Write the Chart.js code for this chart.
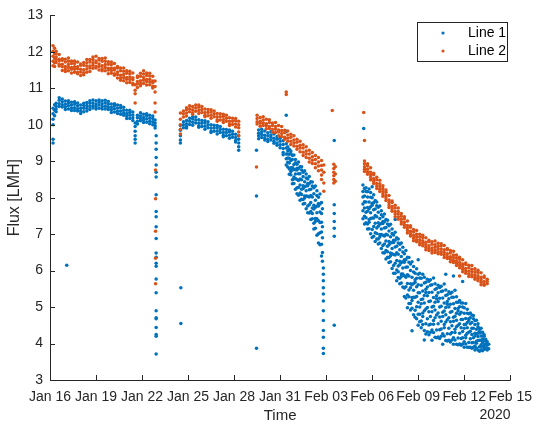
<!DOCTYPE html>
<html>
<head>
<meta charset="utf-8">
<script src="https://cdn.jsdelivr.net/npm/chart.js@4.4.1/dist/chart.umd.min.js"></script>
<style>
html,body{margin:0;padding:0;background:#fff;}
#wrap{position:relative;width:541px;height:427px;}
canvas{display:block;}
</style>
</head>
<body>
<div id="wrap"><canvas id="c" width="541" height="427"></canvas></div>
<script>
// x values are days after Jan 16 2020 00:00
const xTickLabels = ['Jan 16','Jan 19','Jan 22','Jan 25','Jan 28','Jan 31','Feb 03','Feb 06','Feb 09','Feb 12','Feb 15'];
const yTickValues = [3,4,5,6,7,8,9,10,11,12,13];
const seriesNames = ['Line 1','Line 2'];
const seriesColors = ['#0072BD','#D95319'];

// Line 1 (blue): each row = [day, flux values read at that time...]
const line1Seg1 = [
[0.2,10.45,10.3,10.15,10.0,9.6,9.5],[0.3,10.55,10.4,10.25],
[0.4,10.59,10.51,10.43,10.36],[0.6,10.67,10.58,10.5,10.74],[0.8,10.71,10.63,10.55,10.49],
[1.0,10.65,10.56,10.49,10.42],[1.2,10.66,10.6,10.52,10.43],[1.4,10.62,10.54,10.46,10.39],
[1.6,10.56,10.47,10.39,10.63],[1.8,10.6,10.52,10.44,10.38],[2.0,10.54,10.45,10.38,10.31],
[2.2,10.59,10.53,10.45,10.36],[2.4,10.61,10.53,10.45,10.38],[2.6,10.59,10.5,10.42,10.66],
[2.8,10.68,10.6,10.52,10.46],[3.0,10.66,10.57,10.5,10.43],[3.2,10.68,10.62,10.54,10.45],
[3.4,10.66,10.58,10.5,10.43],[3.6,10.6,10.51,10.43,10.67],[3.8,10.64,10.56,10.48,10.42],
[4.0,10.57,10.48,10.41,10.34],[4.2,10.58,10.52,10.44,10.35],[4.4,10.54,10.46,10.38,10.31],
[4.6,10.46,10.37,10.29,10.53],[4.8,10.48,10.4,10.32,10.26],[5.0,10.4,10.31,10.24,10.17],
[5.2,10.4,10.34,10.26,10.17],[5.4,10.35,10.27,10.19,10.12],[5.55,10.05,9.95,9.82,9.7,9.6,9.5],
[5.7,10.19,10.1,10.02,10.26],[5.9,10.33,10.25,10.17,10.11],[6.1,10.29,10.2,10.13,10.06],
[6.3,10.3,10.24,10.16,10.07],[6.5,10.26,10.18,10.1,10.03],[6.7,10.17,10.08,10.0,10.24],
[6.85,10.13,10.05,9.97,9.91],
[6.92,9.7,9.5,9.33,9.1,8.9,8.7,8.57,8.08,7.62,7.48,7.2,6.88,6.48,6.37,6.2,6.12,5.77,5.39,4.9,4.71,4.68,4.44,4.25,4.2,3.71],
[1.09,6.15]
];
const line1Seg2 = [
[8.53,5.53,4.55],
[8.5,9.98,9.85,9.7,9.58,9.5],[8.7,10.08,10.0,9.92],[8.9,10.12,10.03,9.95,9.91],[9.1,10.18,10.1,10.01],
[9.3,10.16,10.07,9.99,10.22],[9.5,10.21,10.13,10.05],[9.7,10.14,10.05,9.97,9.93],[9.9,10.12,10.04,9.95],
[10.1,10.05,9.96,9.88,10.11],[10.3,10.08,10.0,9.92],[10.5,10.0,9.91,9.83,9.79],[10.7,9.99,9.91,9.82],
[10.9,9.92,9.83,9.75,9.98],[11.1,9.95,9.87,9.79],[11.3,9.88,9.79,9.71,9.67],[11.5,9.87,9.79,9.7],
[11.7,9.8,9.71,9.63,9.86],[11.9,9.82,9.74,9.66],[12.1,9.74,9.65,9.57,9.53],[12.3,9.7,9.6,9.5,9.4,9.3]
];
const line1Seg3 = [
[13.46,9.3,8.05,3.87],
[13.6,9.86,9.77,9.7,9.62],[13.8,9.8,9.73,9.65,9.88],[14.0,9.83,9.71,9.64,9.58],[14.2,9.78,9.7,9.6,9.54],
[14.4,9.72,9.66,9.58,9.81],[14.6,9.75,9.63,9.55,9.49],[14.8,9.68,9.6,9.5,9.44],[15.0,9.63,9.55,9.45,9.37],
[15.2,9.56,9.46,9.35,9.24,9.18],[15.4,10.26,9.82,9.48,9.36,9.2,9.07,8.9],
[15.5,9.4,9.29,9.2,9.09,8.97,8.84],[15.6,9.33,9.19,9.08,8.95,8.79,8.64],
[15.7,9.28,9.21,9.02,8.82,8.72,8.63],[15.8,9.16,9.05,8.83,8.76,8.49,8.38],
[15.9,9.17,8.91,8.78,8.57,8.51,8.39],[16.0,9.05,8.96,8.77,8.65,8.53,8.23],
[16.1,8.92,8.81,8.76,8.5,8.27,8.11],[16.2,8.98,8.8,8.66,8.47,8.28,8.07],
[16.3,8.85,8.66,8.51,8.35,8.13,7.93],[16.4,8.85,8.76,8.49,8.23,8.09,7.96],
[16.5,8.7,8.58,8.33,8.25,7.95,7.83],[16.6,8.74,8.44,8.3,8.05,7.99,7.84],
[16.7,8.65,8.54,8.32,8.19,8.05,7.7],[16.8,8.51,8.39,8.33,8.04,7.77,7.59],
[16.9,8.58,8.39,8.22,8.02,7.81,7.58],[17.0,8.44,8.23,8.06,7.87,7.62,7.4],
[17.1,8.43,8.32,8.02,7.72,7.57,7.42],[17.2,8.27,8.11,7.79,7.69,7.3,7.14],
[17.3,8.32,7.93,7.74,7.43,7.35,7.16],[17.4,8.19,8.06,7.77,7.59,7.42,6.97],
[17.5,8.01,7.84,7.77,7.37,7.01,6.76],[17.6,8.1,7.83,7.61,7.32,7.04,6.71],
[17.7,7.87,7.57,7.33,7.06,6.72,6.4],[17.76,7.7,7.2,6.9,6.5,6.26],
[17.82,6.07,5.9,5.72,5.53,5.36,5.17,4.9,4.63,4.36,4.17,3.87,3.73],
[18.53,9.57,7.81,7.57,7.35,7.16,6.94,4.5]
];
const line1Seg5 = [
[20.45,9.9],
[20.4,8.35,8.17,8.02,7.83,7.64,7.42],[20.5,8.25,8.05,7.89,7.72,7.49,7.28],
[20.6,8.27,8.17,7.88,7.6,7.45,7.31],[20.7,8.16,8.02,7.73,7.63,7.28,7.14],
[20.8,8.24,7.88,7.7,7.4,7.33,7.15],[20.9,8.14,8.01,7.75,7.59,7.43,7.01],
[21.0,8.3,8.0,7.85,7.79,7.44,7.13,6.91],[21.1,8.08,7.86,7.67,7.44,7.21,6.94],
[21.2,7.92,7.69,7.51,7.3,7.04,6.8],[21.3,7.88,7.78,7.48,7.17,7.02,6.87],
[21.4,7.74,7.6,7.31,7.22,6.87,6.73],[21.5,7.77,7.43,7.27,6.99,6.92,6.76],
[21.6,7.64,7.53,7.29,7.14,6.99,6.61],[21.7,7.48,7.35,7.29,6.97,6.69,6.49],
[21.8,7.55,7.34,7.17,6.95,6.73,6.48],[21.9,7.4,7.18,7.0,6.81,6.55,6.32],
[22.0,7.38,7.28,6.98,6.67,6.52,6.37],[22.1,7.23,7.09,6.8,6.71,6.36,6.22],
[22.2,7.27,6.93,6.76,6.48,6.41,6.24],[22.3,7.14,7.02,6.77,6.61,6.46,6.06],
[22.4,6.98,6.83,6.77,6.44,6.14,5.93],[22.5,7.4,7.05,6.83,6.65,6.43,6.2,5.93],
[22.6,6.9,6.67,6.49,6.28,6.02,5.72],[22.7,6.87,6.76,6.45,6.13,5.97,5.81],
[22.8,6.72,6.57,6.26,6.16,5.79,5.64],[22.9,6.76,6.39,6.22,5.91,5.84,5.66],
[23.0,6.64,6.51,6.24,6.07,5.91,5.55],[23.1,6.46,6.3,6.23,5.86,5.52,5.29],
[23.2,6.55,6.3,6.09,5.82,5.56,5.25],[23.3,6.37,6.1,5.89,5.65,5.33,4.98],
[23.4,6.36,6.23,5.85,5.47,5.28,5.1],[23.5,6.18,6.0,5.64,5.53,5.1,4.92],
[23.6,6.24,5.82,5.61,5.26,5.18,4.97,4.35],[23.7,6.11,5.96,5.65,5.46,5.27,4.79],
[23.8,5.93,5.75,5.68,5.27,4.91,4.72],[23.9,6.05,5.79,5.56,5.29,5.01,4.68],
[24.0,6.3,5.9,5.61,5.39,5.13,4.8,4.5],[24.1,5.93,5.8,5.39,5.0,4.8,4.6],
[24.2,5.79,5.6,5.21,5.09,4.62,4.43],[24.3,5.9,5.44,5.22,4.84,4.74,4.52],
[24.4,5.82,5.66,5.32,5.11,4.9,4.36,4.1],[24.5,5.68,5.49,5.4,4.95,4.54,4.26],
[24.6,5.76,5.55,5.31,4.99,4.68,4.32],[24.7,5.71,5.4,5.15,4.87,4.51,4.24],
[24.8,5.75,5.6,5.17,4.74,4.53,4.31],[24.9,5.61,5.41,5.0,4.87,4.37,4.09],
[25.0,5.8,5.26,5.02,4.63,4.53,4.3],[25.1,5.64,5.48,5.13,4.92,4.71,4.17],
[25.2,5.51,5.31,5.23,4.78,4.37,4.16],[25.3,5.6,5.39,5.15,4.84,4.54,4.18],
[25.4,5.54,5.24,5.0,4.73,4.38,4.14],[25.5,5.57,5.43,5.02,4.61,4.4,4.2],
[25.6,5.44,5.25,4.86,4.74,4.27,3.98],[25.7,5.63,5.11,4.89,4.52,4.43,4.21],
[25.8,5.9,5.47,5.32,4.99,4.79,4.59,4.08],[25.9,5.34,5.15,5.08,4.65,4.27,4.07],
[26.0,5.42,5.23,5.0,4.71,4.42,4.09],[26.1,5.37,5.08,4.86,4.6,4.26,4.04],
[26.2,5.41,5.27,4.88,4.49,4.3,4.1],[26.3,5.85,5.27,5.09,4.72,4.61,4.16,3.98],
[26.4,5.46,4.96,4.75,4.39,4.3,4.1],[26.5,5.28,5.13,4.83,4.64,4.46,3.98],
[26.6,5.13,4.96,4.89,4.5,4.15,3.97],[26.7,5.18,5.01,4.8,4.54,4.28,3.99],
[26.8,5.11,4.86,4.66,4.43,4.14,3.95],[26.9,5.7,5.11,5.0,4.66,4.33,4.16,3.99],
[27.0,4.98,4.83,4.52,4.42,4.05,3.9],[27.1,5.1,4.69,4.52,4.23,4.16,3.99],
[27.2,4.94,4.83,4.58,4.43,4.28,3.9],[27.3,4.82,4.68,4.63,4.31,4.03,3.9],
[27.4,4.84,4.71,4.54,4.34,4.13,3.9],[27.5,4.78,4.58,4.42,4.25,4.02,3.87],
[27.6,4.77,4.68,4.42,4.16,4.03,3.9],[27.7,4.63,4.52,4.28,4.21,3.93,3.82],
[27.8,4.64,4.39,4.27,4.06,4.01,3.88],[27.9,4.54,4.46,4.29,4.19,4.08,3.82],
[28.0,4.41,4.33,4.29,4.09,3.91,3.79],[28.1,4.42,4.31,4.21,4.09,3.97,3.83],
[28.2,4.31,4.21,4.12,4.03,3.91,3.8],[28.3,4.24,4.2,4.08,3.96,3.9,3.84],
[28.4,4.12,4.07,3.99,3.96,3.85],[28.5,4.05,3.96,3.88,3.82],[28.6,3.98,3.86]
];

// Line 2 (orange)
const line2Seg1 = [
[0.2,12.17,12.02,11.88,11.74,11.62],[0.3,12.1,11.95,11.82,11.7,11.6],
[0.4,11.95,11.86,11.79,11.71,12.02],[0.6,11.93,11.8,11.75,11.65,11.61],[0.8,11.77,11.66,11.59,11.49,11.81],
[1.0,11.8,11.72,11.6,11.52,11.46],[1.2,11.83,11.74,11.65,11.57,11.48],[1.4,11.75,11.68,11.57,11.52,11.42],
[1.6,11.68,11.59,11.52,11.44,11.75],[1.8,11.72,11.59,11.54,11.44,11.4],[2.0,11.63,11.52,11.45,11.35,11.67],
[2.2,11.71,11.63,11.51,11.43,11.37],[2.4,11.79,11.7,11.61,11.53,11.44],[2.6,11.79,11.72,11.61,11.56,11.46],
[2.8,11.79,11.7,11.63,11.55,11.86],[3.0,11.88,11.75,11.7,11.6,11.56],[3.2,11.78,11.67,11.6,11.5,11.82],
[3.4,11.82,11.74,11.62,11.54,11.48],[3.6,11.83,11.74,11.65,11.57,11.48],[3.8,11.73,11.66,11.55,11.5,11.4],
[4.0,11.65,11.56,11.49,11.41,11.72],[4.2,11.68,11.55,11.5,11.4,11.36],[4.4,11.56,11.45,11.38,11.28,11.6],
[4.6,11.56,11.48,11.36,11.28,11.22],[4.8,11.56,11.47,11.38,11.3,11.21],[5.0,11.48,11.41,11.3,11.25,11.15],
[5.2,11.4,11.31,11.24,11.16,11.47],[5.4,11.42,11.29,11.24,11.14,11.1],[5.55,11.1,10.95,10.85,10.6],
[5.7,11.3,11.19,11.12,11.02,11.34],[5.9,11.41,11.33,11.21,11.13,11.07],[6.1,11.48,11.39,11.3,11.22,11.13],
[6.3,11.42,11.35,11.24,11.19,11.09],[6.5,11.34,11.25,11.18,11.1,11.41],[6.7,11.33,11.2,11.15,11.05,11.01],
[6.85,11.2,11.05,10.9,10.6,10.35],
[6.88,8.76,7.97,7.08,6.34,5.64]
];
const line2Seg2 = [
[8.5,10.32,10.15,10.0,9.88,9.75],[8.7,10.38,10.3,10.21],[8.9,10.41,10.32,10.24,10.47],[9.1,10.52,10.44,10.36],
[9.3,10.5,10.41,10.33,10.29],[9.5,10.54,10.46,10.37],[9.7,10.48,10.39,10.31,10.54],[9.9,10.5,10.42,10.34],
[10.1,10.43,10.34,10.26,10.22],[10.3,10.42,10.34,10.25],[10.5,10.35,10.26,10.18,10.41],[10.7,10.38,10.3,10.22],
[10.9,10.31,10.22,10.14,10.1],[11.1,10.3,10.22,10.13],[11.3,10.23,10.14,10.06,10.29],[11.5,10.26,10.18,10.1],
[11.7,10.19,10.1,10.02,9.98],[11.9,10.18,10.1,10.01],[12.1,10.11,10.02,9.94,10.17],[12.3,10.1,10.0,9.92,9.8,9.7]
];
const line2Seg3 = [
[13.46,8.84],
[13.5,10.26,10.17,10.08,10.02],[13.7,10.2,10.1,10.04,9.96],[13.9,10.22,10.13,10.05,9.98],
[14.1,10.15,10.03,9.97,9.89],[14.3,10.14,10.06,9.95,9.9],[14.5,10.05,9.98,9.87,9.8],
[14.7,10.06,9.95,9.88,9.79],[14.9,9.98,9.86,9.8,9.7],[15.1,9.95,9.84,9.76,9.68],
[15.3,9.85,9.78,9.66,9.6],[15.4,10.9,10.83],[15.5,9.83,9.72,9.63,9.55],[15.7,9.74,9.66,9.55,9.46],
[15.9,9.7,9.58,9.5,9.42],[16.1,9.6,9.52,9.41,9.33],[16.3,9.55,9.44,9.36,9.26],[16.5,9.45,9.36,9.25,9.16],
[16.7,9.4,9.28,9.2,9.1],[16.9,9.3,9.2,9.08,8.98],[17.1,9.24,9.12,9.03,8.94],[17.3,9.16,9.05,8.93,8.82],
[17.5,9.1,8.98,8.87,8.74],[17.7,9.02,8.88,8.76,8.62,8.5],[17.85,8.9,8.7,8.4,8.18],
[18.4,10.39],[18.5,8.92,8.8,8.7,8.6,8.5,8.4],[18.6,8.85,8.65,8.45]
];
const line2Seg5 = [
[20.45,10.34],[20.5,9.57],
[20.5,9.01,8.93,8.85,8.78,8.72],[20.7,8.87,8.78,8.71,8.64,8.93],[20.9,8.82,8.7,8.63,8.56,8.49],
[21.1,8.63,8.52,8.45,8.39,8.67],[21.3,8.56,8.49,8.39,8.32,8.25],[21.5,8.48,8.38,8.31,8.23,8.17],
[21.7,8.33,8.25,8.17,8.1,8.04],[21.9,8.15,8.06,7.99,7.92,8.21],[22.1,8.06,7.94,7.87,7.8,7.73],
[22.3,7.87,7.76,7.69,7.63,7.91],[22.5,7.79,7.72,7.62,7.55,7.48],[22.7,7.72,7.62,7.55,7.47,7.41],
[22.9,7.57,7.49,7.41,7.34,7.28],[23.1,7.42,7.33,7.26,7.19,7.48],[23.3,7.36,7.24,7.17,7.1,7.03],
[23.5,7.19,7.08,7.01,6.95,7.23],[23.7,7.13,7.06,6.96,6.89,6.82],[23.9,7.1,7.0,6.93,6.85,6.79],
[24.1,7.0,6.92,6.84,6.77,6.71],[24.3,6.91,6.82,6.75,6.68,6.97],[24.5,6.9,6.78,6.71,6.64,6.57],
[24.7,6.79,6.68,6.61,6.55,6.83],[24.9,6.79,6.72,6.62,6.55,6.48],[25.1,6.81,6.71,6.64,6.56,6.5],
[25.3,6.75,6.67,6.59,6.52,6.46],[25.5,6.68,6.59,6.52,6.45,6.74],[25.7,6.69,6.57,6.5,6.43,6.36],
[25.9,6.57,6.46,6.39,6.33,6.61],[26.1,6.55,6.48,6.38,6.31,6.24],[26.3,6.53,6.43,6.36,6.28,6.22],
[26.5,6.43,6.35,6.27,6.2,6.14],[26.7,6.31,6.22,6.15,6.08,6.37,5.85],[26.9,6.3,6.18,6.11,6.04,5.97],
[27.1,6.17,6.06,5.99,5.93,6.21],[27.3,6.15,6.08,5.98,5.91,5.84],[27.5,6.14,6.04,5.97,5.89,5.83],
[27.7,6.05,5.97,5.89,5.82,5.76],[27.9,5.95,5.86,5.79,5.72,6.01],[28.1,5.94,5.82,5.75,5.68,5.61],
[28.3,5.81,5.7,5.63,5.6,5.85],[28.5,5.76,5.7,5.64]
];

function toPoints(groups){
  const pts = [];
  groups.forEach(rows => rows.forEach(r => {
    for (let i = 1; i < r.length; i++) pts.push({x: r[0], y: r[i]});
  }));
  return pts;
}
const line1Points = toPoints([line1Seg1, line1Seg2, line1Seg3, line1Seg5]);
const line2Points = toPoints([line2Seg1, line2Seg2, line2Seg3, line2Seg5]);

const FONT = "'Liberation Sans', Arial, Helvetica, sans-serif";
const AXIS = '#262626';

const decor = {
  id: 'decor',
  afterDraw(chart){
    const ctx = chart.ctx;
    const xs = chart.scales.x, ys = chart.scales.y;
    const a = chart.chartArea;
    ctx.save();
    ctx.strokeStyle = AXIS;
    ctx.lineWidth = 1;
    ctx.beginPath();
    ctx.moveTo(Math.round(a.left) + 0.5, a.top);
    ctx.lineTo(Math.round(a.left) + 0.5, Math.round(a.bottom) + 0.5);
    ctx.lineTo(a.right + 0.5, Math.round(a.bottom) + 0.5);
    yTickValues.forEach(v => {
      const py = Math.round(ys.getPixelForValue(v)) + 0.5;
      ctx.moveTo(a.left, py); ctx.lineTo(a.left + 5, py);
    });
    xTickLabels.forEach((_, i) => {
      const px = Math.round(xs.getPixelForValue(i * 3)) + 0.5;
      ctx.moveTo(px, a.bottom); ctx.lineTo(px, a.bottom - 5);
    });
    ctx.stroke();
    ctx.fillStyle = AXIS;
    ctx.font = '14px ' + FONT;
    ctx.textAlign = 'center';
    ctx.textBaseline = 'middle';
    ctx.fillText('2020', 495, 415);
    const bx = 417.5, by = 22.5, bw = 90, bh = 39;
    ctx.fillStyle = '#ffffff';
    ctx.fillRect(bx, by, bw, bh);
    ctx.strokeStyle = AXIS;
    ctx.strokeRect(bx, by, bw, bh);
    chart.data.datasets.forEach((ds, i) => {
      const cy = 33 + i * 18;
      ctx.fillStyle = ds.backgroundColor;
      ctx.beginPath();
      ctx.arc(443, cy, 1.6, 0, Math.PI * 2);
      ctx.fill();
      ctx.fillStyle = '#000';
      ctx.textAlign = 'left';
      ctx.fillText(ds.label, 468, cy);
    });
    ctx.restore();
  }
};

new Chart(document.getElementById('c'), {
  type: 'scatter',
  data: {
    datasets: [
      {label: seriesNames[0], data: line1Points, backgroundColor: seriesColors[0], borderWidth: 0, pointRadius: 1.75, order: 1},
      {label: seriesNames[1], data: line2Points, backgroundColor: seriesColors[1], borderWidth: 0, pointRadius: 1.75, order: 0}
    ]
  },
  options: {
    responsive: false,
    animation: false,
    events: [],
    layout: {padding: {top: 12, right: 23, left: 0, bottom: 0}},
    plugins: {legend: {display: false}, tooltip: {enabled: false}},
    scales: {
      x: {
        type: 'linear', min: 0, max: 30,
        grid: {display: false, drawTicks: false},
        border: {display: false},
        ticks: {stepSize: 3, autoSkip: false, maxRotation: 0, padding: 9, color: AXIS,
          font: {family: FONT, size: 14},
          callback: (v) => xTickLabels[Math.round(v / 3)]},
        title: {display: true, text: 'Time', color: AXIS, font: {family: FONT, size: 15}, padding: {top: 0, bottom: 2}},
        afterFit: (s) => { s.height = 47; }
      },
      y: {
        type: 'linear', min: 3, max: 13,
        grid: {display: false, drawTicks: false},
        border: {display: false},
        ticks: {stepSize: 1, padding: 7, color: AXIS, font: {family: FONT, size: 14}},
        title: {display: true, text: 'Flux [LMH]', color: AXIS, font: {family: FONT, size: 16}, padding: {top: 5, bottom: 0}},
        afterFit: (s) => { s.width = 50; }
      }
    }
  },
  plugins: [decor]
});
</script>
</body>
</html>
